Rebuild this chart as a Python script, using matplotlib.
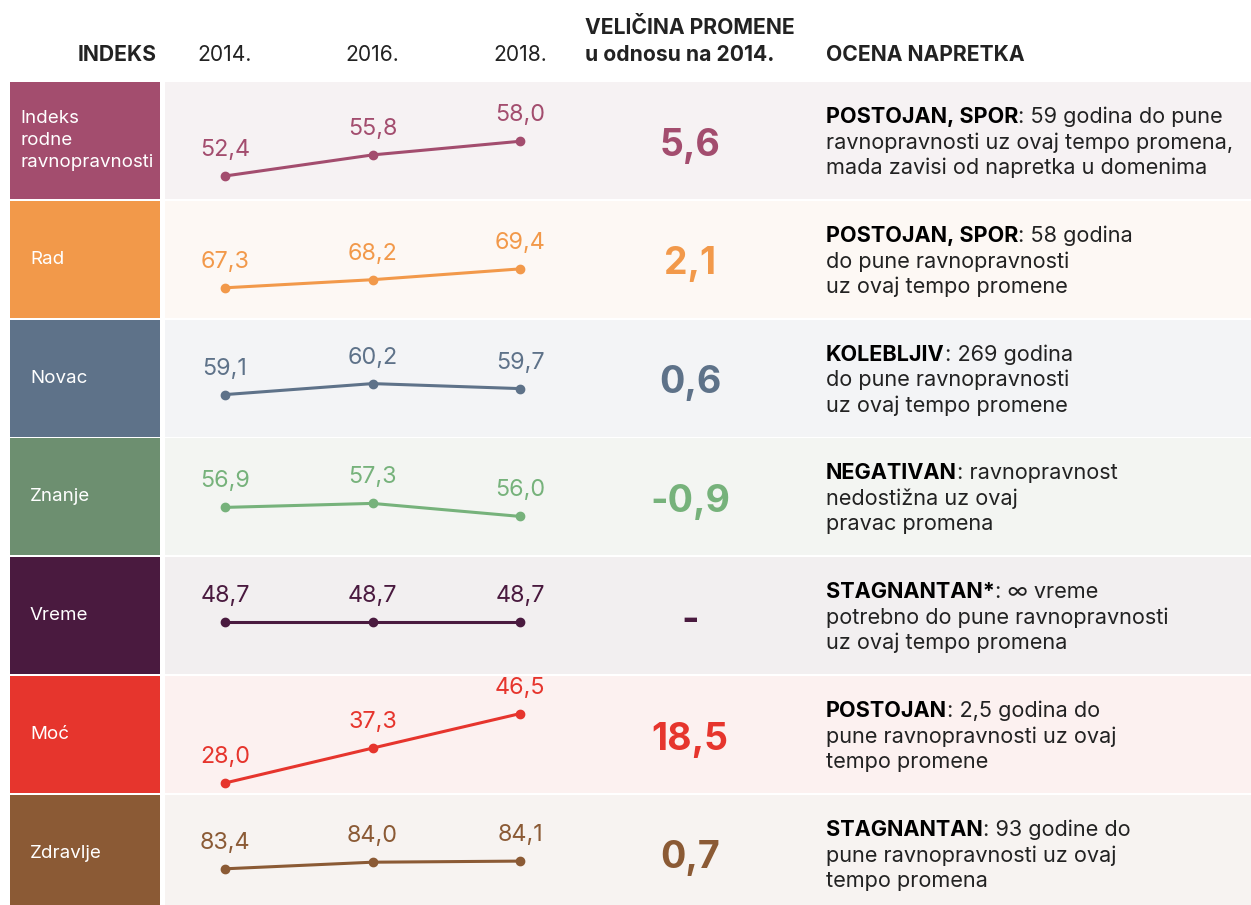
import matplotlib
matplotlib.use("Agg")
import matplotlib.pyplot as plt
from matplotlib.patches import Rectangle

plt.rcParams['font.family'] = ['Inter', 'DejaVu Sans']

# ---------------- data ----------------
years = [2014, 2016, 2018]
year_labels = ["2014.", "2016.", "2018."]
indices = ["Indeks\nrodne\nravnopravnosti", "Rad", "Novac", "Znanje", "Vreme", "Moć", "Zdravlje"]
v_indeks = [52.4, 55.8, 58.0]
v_rad = [67.3, 68.2, 69.4]
v_novac = [59.1, 60.2, 59.7]
v_znanje = [56.9, 57.3, 56.0]
v_vreme = [48.7, 48.7, 48.7]
v_moc = [28.0, 37.3, 46.5]
v_zdravlje = [83.4, 84.0, 84.1]
series = [v_indeks, v_rad, v_novac, v_znanje, v_vreme, v_moc, v_zdravlje]
assess_bold = ["POSTOJAN, SPOR", "POSTOJAN, SPOR", "KOLEBLJIV", "NEGATIVAN",
               "STAGNANTAN*", "POSTOJAN", "STAGNANTAN"]
assess_lines = [
    [": 59 godina do pune", "ravnopravnosti uz ovaj tempo promena,", "mada zavisi od napretka u domenima"],
    [": 58 godina", "do pune ravnopravnosti", "uz ovaj tempo promene"],
    [": 269 godina", "do pune ravnopravnosti", "uz ovaj tempo promene"],
    [": ravnopravnost", "nedostižna uz ovaj", "pravac promena"],
    [": ∞ vreme", "potrebno do pune ravnopravnosti", "uz ovaj tempo promena"],
    [": 2,5 godina do", "pune ravnopravnosti uz ovaj", "tempo promene"],
    [": 93 godine do", "pune ravnopravnosti uz ovaj", "tempo promena"],
]

# ---------------- styles ----------------
box_colors = ["#a34d6e", "#f2994a", "#5e7289", "#6d8f70", "#4a1a3f", "#e6352d", "#8b5a35"]
line_colors = ["#a34d6e", "#f2994a", "#5e7289", "#76b27b", "#4a1a3f", "#e6352d", "#8b5a35"]
bg_colors = ["#f6f2f3", "#fdf8f4", "#f3f4f6", "#f3f5f2", "#f2eff0", "#fcf1f0", "#f7f3f1"]
first_off = [94, 87, 75, 69, 65, 107, 74]     # px from row top of first point
px_per_unit = [6.2, 9.0, 10.0, 10.0, 10.0, 3.75, 11.0]

W, H = 1251, 905
DPI = 100
fig = plt.figure(figsize=(W / DPI, H / DPI), dpi=DPI)
fig.patch.set_facecolor("white")
ax = fig.add_axes([0, 0, 1, 1])
ax.set_xlim(0, W)
ax.set_ylim(H, 0)
ax.axis("off")

TXT = "#222222"
ROW0, PITCH, RH = 82, 118.8, 117
HFS = 15.2   # header
VFS = 16.8   # value labels
BFS = 27     # big change numbers
DFS = 15.6   # description
LFS = 13.5   # box labels

# header
hdr_y = 55
ax.text(157, hdr_y, "INDEKS", ha="right", va="center", fontsize=HFS, fontweight="bold", color=TXT)
x2014, x2018 = 225, 520
def xpix(yr):
    return x2014 + (yr - 2014) / 4 * (x2018 - x2014)
for yr, lab in zip(years, year_labels):
    ax.text(xpix(yr), hdr_y, lab, ha="center", va="center", fontsize=HFS, color=TXT)
ax.text(585, 28, "VELIČINA PROMENE", ha="left", va="center", fontsize=HFS, fontweight="bold", color=TXT)
ax.text(585, hdr_y, "u odnosu na 2014.", ha="left", va="center", fontsize=HFS, fontweight="bold", color=TXT)
ax.text(826, hdr_y, "OCENA NAPRETKA", ha="left", va="center", fontsize=HFS, fontweight="bold", color=TXT)

renderer = fig.canvas.get_renderer()

for i, (name, vals) in enumerate(zip(indices, series)):
    top = ROW0 + i * PITCH
    h = min(RH, H - top)
    cy = top + RH / 2
    ax.add_patch(Rectangle((10, top), 150, h, facecolor=box_colors[i], edgecolor="none"))
    ax.add_patch(Rectangle((165, top), W - 165, h, facecolor=bg_colors[i], edgecolor="none"))
    ax.text(20 if i == 0 else 30, cy, name, ha="left", va="center", fontsize=LFS,
            color="white", linespacing=1.42)

    # sparkline axes
    sax = fig.add_axes([x2014 / W, 1 - (top + RH) / H, (x2018 - x2014) / W, RH / H])
    sax.set_xlim(2014, 2018)
    o, s, v0 = first_off[i], px_per_unit[i], vals[0]
    sax.set_ylim(v0 - (RH - o) / s, v0 + o / s)
    sax.axis("off")
    sax.patch.set_alpha(0)
    sax.plot(years, vals, color=line_colors[i], lw=2.2, marker="o", ms=6, clip_on=False)
    for yr, v in zip(years, vals):
        sax.annotate(f"{v:.1f}".replace(".", ","), (yr, v), xytext=(0, 26),
                     textcoords="offset pixels", ha="center", va="center",
                     fontsize=VFS, color=line_colors[i], annotation_clip=False)

    # change
    d = round(vals[-1] - vals[0], 1)
    dtxt = "-" if d == 0 else f"{d:.1f}".replace(".", ",")
    ax.text(690, cy + 5, dtxt, ha="center", va="center", fontsize=BFS,
            fontweight="bold", color=line_colors[i])

    # assessment
    lines = assess_lines[i]
    ly0 = cy - 25.5
    b = ax.text(826, ly0, assess_bold[i], ha="left", va="center_baseline", fontsize=DFS,
                fontweight="bold", color="black")
    bb = b.get_window_extent(renderer)
    ax.text(826 + bb.width, ly0, lines[0], ha="left", va="center_baseline", fontsize=DFS, color=TXT)
    for k, ln in enumerate(lines[1:]):
        ax.text(826, ly0 + 25.5 * (k + 1), ln, ha="left", va="center_baseline",
                fontsize=DFS, color=TXT)

fig.savefig("out.png", dpi=DPI, facecolor="white")
